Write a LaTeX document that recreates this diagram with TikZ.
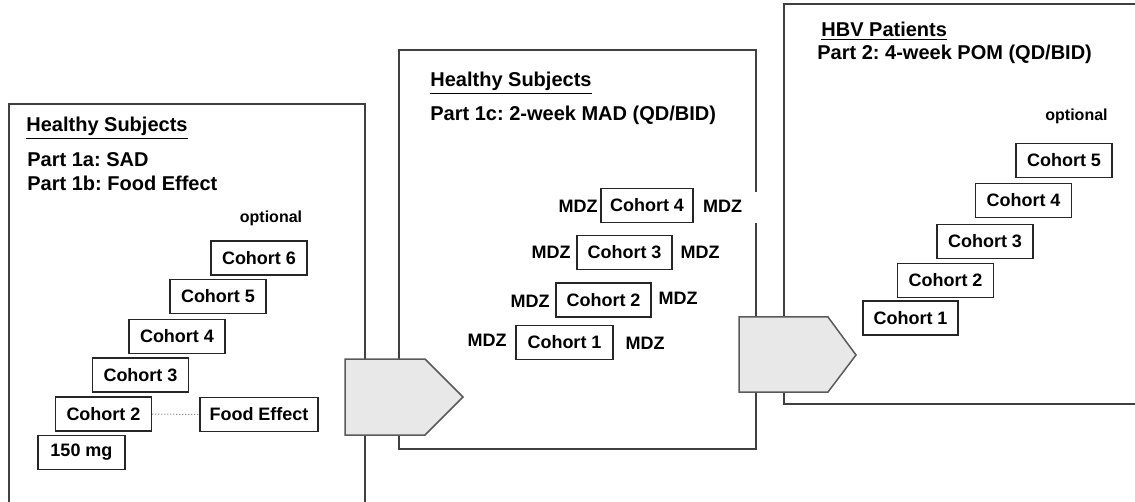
\documentclass[tikz,border=0pt]{standalone}
\usepackage{fontspec}
\setmainfont{Liberation Sans}
\usetikzlibrary{positioning}
\frenchspacing
\definecolor{PanelLine}{RGB}{64,64,64}
\definecolor{StageFill}{RGB}{232,232,232}
\definecolor{StageLine}{RGB}{90,90,90}
\tikzset{
  panel/.style={draw=PanelLine,line width=1pt},
  cohort/.style={draw=black!85,line width=0.75pt,fill=white,minimum width=48pt,
    minimum height=17pt,inner sep=0pt,font=\fontsize{9}{11}\selectfont\bfseries},
  mdz/.style={inner sep=0pt,font=\fontsize{9}{11}\selectfont\bfseries},
  heading/.style={anchor=west,inner sep=0pt,align=left,
    font=\fontsize{10}{12}\selectfont\bfseries},
  stage/.style={draw=StageLine,fill=StageFill,line width=0.75pt}
}

\begin{document}
\begin{tikzpicture}[
  x=0.5pt,
  y=-0.5pt,
  optnote/.style={
    inner sep=0pt,
    font=\fontsize{8}{10}\selectfont\bfseries
  }
]
\useasboundingbox (0,0) rectangle (1135,502);

% Panels
\draw[panel] (9,503) -- (9,104) -- (365,104) -- (365,503);
\draw[panel] (399,50) rectangle (756,449);
\draw[panel] (1136,4) -- (784,4) -- (784,404) -- (1136,404);
\fill[white] (750,192) rectangle (760,223);

% Part 1a / 1b
\node[heading] (sadtitle) at (26,128) {\underline{Healthy Subjects}};
\node[heading] (sadpart) at (27,172) {Part 1a: SAD\\Part 1b: Food Effect};
\node[optnote] (sadopt) at (271,218) {optional};
\node[cohort] (sad6) at (259,258) {Cohort 6};
\node[cohort] (sad5) at (218,296.5) {Cohort 5};
\node[cohort] (sad4) at (177,336.5) {Cohort 4};
\node[cohort] (sad3) at (140.5,375) {Cohort 3};
\node[cohort] (sad2) at (103.5,414) {Cohort 2};
\node[cohort,minimum width=59pt] (food) at (259,414.5) {Food Effect};
\node[cohort,minimum width=43.5pt] (dose) at (81.5,452.5) {150 mg};
\draw[gray,densely dotted,line width=0.5pt] (sad2.east) -- (food.west);

% Part 1c
\node[heading] (madtitle) at (430,83) {\underline{Healthy Subjects}};
\node[heading] (madpart) at (430,115) {Part 1c: 2-week MAD (QD/BID)};
\node[cohort,minimum width=46pt] (mad4) at (647,205.5) {Cohort 4};
\node[cohort,minimum width=47.5pt] (mad3) at (624.5,252.5) {Cohort 3};
\node[cohort,minimum width=47.5pt] (mad2) at (603.5,300) {Cohort 2};
\node[cohort,minimum width=48.5pt] (mad1) at (564.5,342.5) {Cohort 1};
\node[mdz] (pre4) at (578,206) {MDZ};
\node[mdz] (post4) at (722.5,206) {MDZ};
\node[mdz] (pre3) at (551,252) {MDZ};
\node[mdz] (post3) at (700,252) {MDZ};
\node[mdz] (pre2) at (530,301) {MDZ};
\node[mdz] (post2) at (678,298) {MDZ};
\node[mdz] (pre1) at (487,340) {MDZ};
\node[mdz] (post1) at (645,343) {MDZ};

% Part 2
\node[heading] (hbvtitle) at (821,31) {\underline{HBV Patients}};
\node[heading] (hbvpart) at (817,54) {Part 2: 4-week POM (QD/BID)};
\node[optnote] (hbvopt) at (1076.5,116) {optional};
\node[cohort] (hbv5) at (1064,160.5) {Cohort 5};
\node[cohort] (hbv4) at (1023.5,200.5) {Cohort 4};
\node[cohort] (hbv3) at (985,241.5) {Cohort 3};
\node[cohort] (hbv2) at (945.5,280.5) {Cohort 2};
\node[cohort,minimum width=47.5pt] (hbv1) at (910.5,318) {Cohort 1};

% Stage arrows
\filldraw[stage] (345,359) -- (425,359) -- (463,397) -- (425,435) -- (345,435) -- cycle;
\filldraw[stage] (739,317) -- (828,317) -- (856,355) -- (828,392) -- (739,392) -- cycle;

\end{tikzpicture}
\end{document}
